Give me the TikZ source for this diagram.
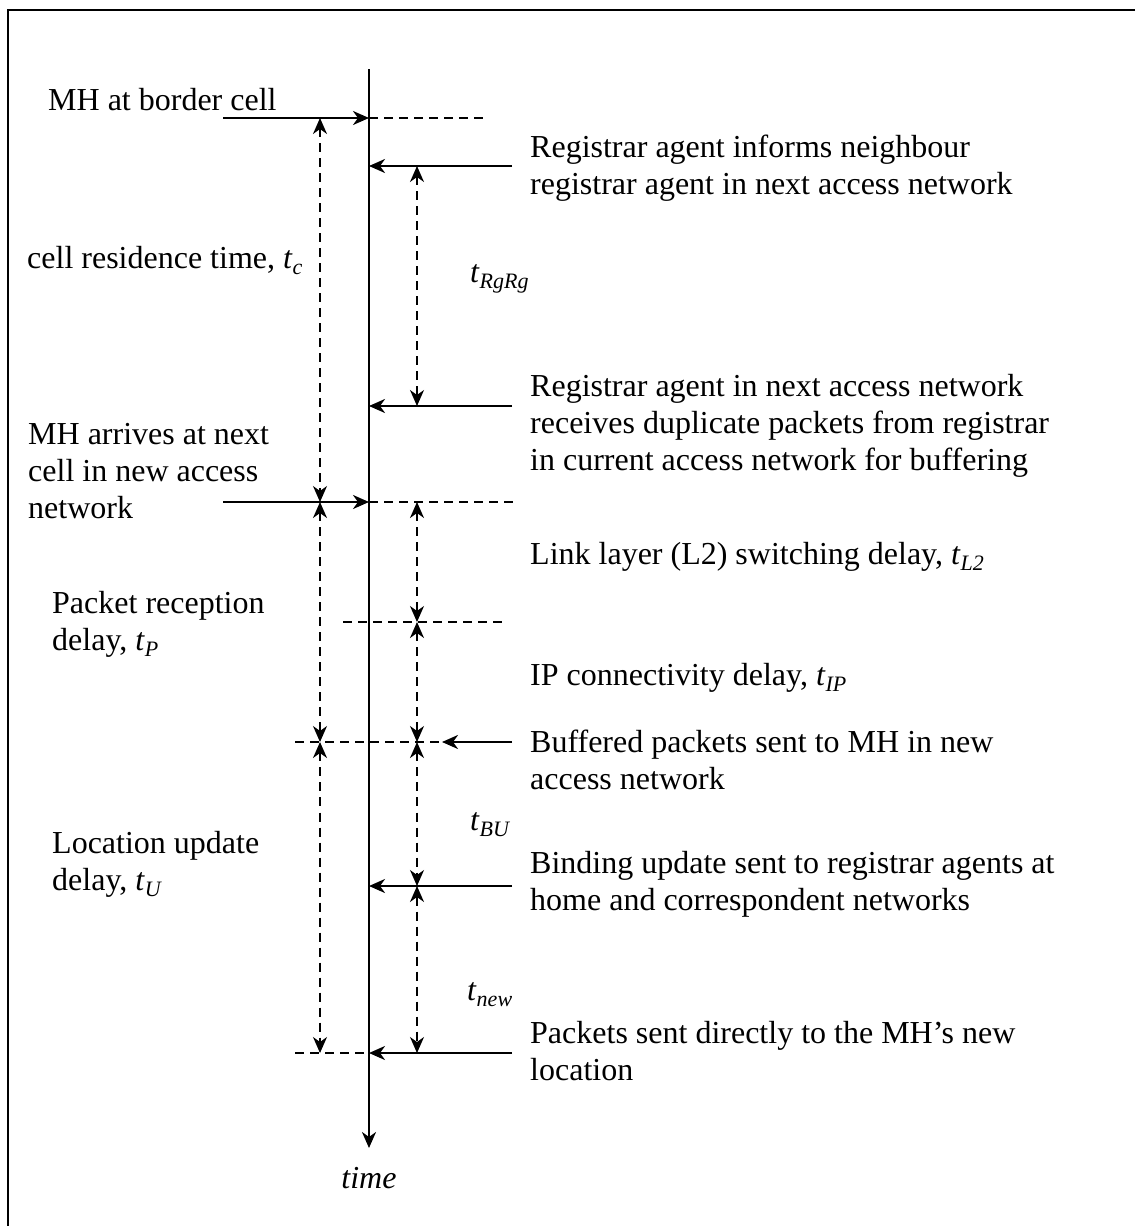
\documentclass[tikz,border=0pt]{standalone}
\usepackage{fontspec}
\setmainfont{Liberation Serif}
\usetikzlibrary{arrows.meta,positioning}
\tikzset{>={Stealth[length=16pt,width=14pt,inset=5pt]},shorten >=0pt}
\tikzset{
  msg/.style={->,line width=2.4pt},
  delayspan/.style={<->,line width=1.4pt,dash pattern=on 9pt off 6pt},
  guideline/.style={line width=1.4pt,dash pattern=on 9pt off 6pt},
  note/.style={anchor=base west,inner sep=0pt,align=left,font=\fontsize{32}{37}\selectfont}
}
\newcommand{\tdly}[1]{\textit{t}\raisebox{-6pt}{\fontsize{22}{22}\selectfont\textit{#1}}}

\begin{document}
\begin{tikzpicture}[x=1pt,y=-1pt]
  \useasboundingbox (0,0) rectangle (1135,1226);
  \draw[line width=2.5pt] (1135,10) -- (8,10) -- (8,1226);
  % time axis
  \coordinate (axtop) at (369,69);
  \coordinate (axend) at (369,1148);
  \draw[->,line width=2pt] (axtop) -- (axend);
  \node[note,anchor=base,font=\fontsize{32}{37}\selectfont\itshape] (time) at (369,1188) {time};
  % events on the axis
  \coordinate (border) at (369,118);
  \coordinate (inform) at (369,166);
  \coordinate (dup)    at (369,406);
  \coordinate (arrive) at (369,502);
  \coordinate (bind)   at (369,886);
  \coordinate (direct) at (369,1053);
  \coordinate (buff)   at (442,742);
  % free ends
  \coordinate (borderL) at (223,118);
  \coordinate (arriveL) at (223,502);
  \coordinate (informR) at (512,166);
  \coordinate (dupR)    at (512,406);
  \coordinate (buffR)   at (512,742);
  \coordinate (bindR)   at (512,886);
  \coordinate (directR) at (512,1053);
  % guide lines
  \coordinate (borderE) at (485,118);
  \coordinate (arriveE) at (513,502);
  \coordinate (ltwoL)   at (343,622);
  \coordinate (ltwoR)   at (505,622);
  \coordinate (buffL)   at (295,742);
  \coordinate (directL) at (295,1053);
  \draw[guideline] (border) -- (borderE);
  \draw[guideline] (arrive) -- (arriveE);
  \draw[guideline] (ltwoL) -- (ltwoR);
  \draw[guideline] (buffL) -- (buff);
  \draw[guideline] (directL) -- (direct);
  % messages
  \draw[msg] (borderL) -- (border);
  \draw[msg] (arriveL) -- (arrive);
  \draw[msg] (informR) -- (inform);
  \draw[msg] (dupR) -- (dup);
  \draw[msg] (buffR) -- (buff);
  \draw[msg] (bindR) -- (bind);
  \draw[msg] (directR) -- (direct);
  % delays
  \foreach \x/\a/\b in {320/118/502, 320/502/742, 320/742/1053,
                        417/166/406, 417/502/622, 417/622/742,
                        417/742/886, 417/886/1053}
    \draw[delayspan] (\x,\a) -- (\x,\b);
  % texts, left (base = last line)
  \node[note] (tborder) at (48,110) {MH at border cell};
  \node[note] (tres)    at (27,268) {cell residence time, \tdly{c}};
  \node[note] (tarrive) at (28,518) {MH arrives at next\\cell in new access\\network};
  \node[note] (trecv)   at (52,650) {Packet reception\\delay, \tdly{P}};
  \node[note] (tupd)    at (52,890) {Location update\\delay, \tdly{U}};
  % texts, right
  \node[note] (tinform) at (530,194) {Registrar agent informs neighbour\\registrar agent in next access network};
  \node[note] (trgrg)   at (470,282) {\tdly{RgRg}};
  \node[note] (tdup)    at (530,470) {Registrar agent in next access network\\receives duplicate packets from registrar\\in current access network for buffering};
  \node[note] (tltwo)   at (530,564) {Link layer (L2) switching delay, \tdly{L2}};
  \node[note] (tip)     at (530,685) {IP connectivity delay, \tdly{IP}};
  \node[note] (tbuff)   at (530,789) {Buffered packets sent to MH in new\\access network};
  \node[note] (tbu)     at (470,830) {\tdly{BU}};
  \node[note] (tbind)   at (530,910) {Binding update sent to registrar agents at\\home and correspondent networks};
  \node[note] (tnew)    at (467,1000) {\tdly{new}};
  \node[note] (tdirect) at (530,1080) {Packets sent directly to the MH's new\\location};
\end{tikzpicture}
\end{document}
